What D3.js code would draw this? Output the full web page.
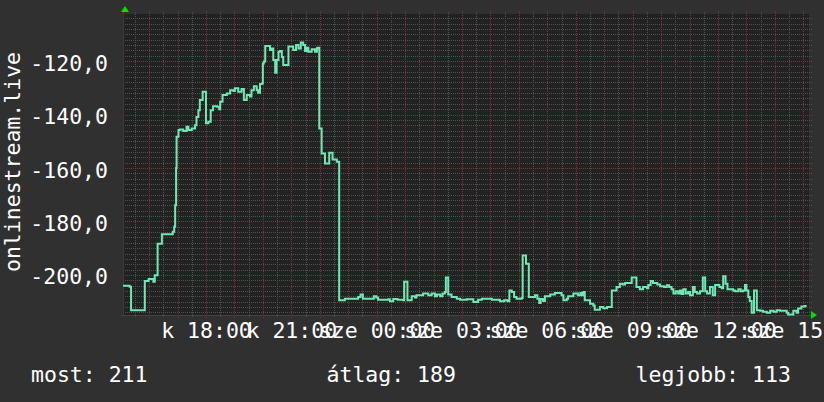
<!DOCTYPE html>
<html>
<head>
<meta charset="utf-8">
<script src="https://cdn.jsdelivr.net/npm/d3@7"></script>
<style>
  html, body { margin: 0; padding: 0; background: #303030; }
  svg text { font-family: "DejaVu Sans Mono", monospace; fill: #ffffff; }
</style>
</head>
<body>
<svg id="svg_stream" width="824" height="402"></svg>
<script>
// minutes since k 15:05 and the plotted value (negated listener rank)
const minutes = [0, 14, 17, 46, 54, 64, 67, 73, 82, 105, 108, 110, 112, 113, 117, 120, 127, 134, 138, 145,
  152, 155, 159, 162, 168, 175, 180, 185, 190, 198, 203, 205, 210, 219, 226, 233, 236, 243, 250, 255,
  261, 268, 271, 276, 282, 285, 289, 293, 295, 297, 300, 310, 314, 317, 321, 324, 328, 331, 335, 338,
  349, 359, 365, 370, 375, 380, 384, 387, 391, 398, 405, 409, 410, 414, 419, 426, 435, 442, 451, 456,
  468, 496, 501, 506, 529, 534, 538, 560, 563, 570, 579, 591, 593, 600, 609, 616, 619, 633, 644, 651,
  658, 662, 669, 674, 679, 681, 686, 693, 704, 711, 725, 739, 749, 757, 778, 795, 804, 811, 815, 820,
  825, 830, 841, 843, 850, 856, 869, 874, 878, 881, 886, 890, 901, 911, 925, 929, 936, 939, 950, 960,
  965, 967, 971, 974, 985, 992, 995, 1006, 1013, 1021, 1031, 1041, 1048, 1054, 1059, 1073, 1083, 1090, 1097, 1105,
  1108, 1113, 1118, 1127, 1133, 1141, 1147, 1152, 1157, 1161, 1166, 1171, 1175, 1178, 1182, 1187, 1192, 1196, 1202, 1206,
  1211, 1217, 1223, 1228, 1232, 1238, 1244, 1249, 1258, 1263, 1266, 1271, 1275, 1287, 1291, 1298, 1303, 1308, 1312, 1315,
  1319, 1322, 1326, 1331, 1337, 1344, 1350, 1358, 1365, 1372, 1379, 1386, 1400, 1403, 1414, 1421, 1424, 1431, 1438, 1442]

const values = [-204.1, -204.4, -213.2, -202.3, -201.5, -202.6, -200.1, -188.3, -184.8, -183.9, -182.0, -173.9, -160.0, -148.3, -145.8, -145.6, -146.2, -144.6, -145.8, -145.2,
  -144.0, -140.9, -138.4, -134.6, -131.5, -143.3, -142.7, -138.4, -136.9, -137.1, -138.0, -135.2, -132.7, -132.1, -130.9, -131.2, -130.2, -131.5, -130.5, -134.6,
  -132.7, -133.3, -130.9, -129.4, -130.9, -131.9, -128.6, -128.4, -120.9, -120.2, -114.4, -115.9, -115.3, -119.6, -124.4, -119.6, -116.5, -116.2, -118.5, -121.5,
  -114.6, -115.9, -114.0, -115.3, -113.1, -114.0, -116.2, -115.0, -116.5, -115.6, -116.5, -115.3, -115.0, -145.2, -154.6, -158.3, -154.3, -156.8, -157.7, -209.5,
  -208.9, -208.3, -207.3, -208.9, -208.0, -208.5, -209.3, -209.1, -209.9, -209.0, -209.3, -209.5, -202.6, -209.5, -208.0, -208.5, -207.6, -207.0, -207.6, -207.0,
  -208.0, -207.3, -208.0, -207.0, -206.4, -201.0, -207.3, -208.3, -208.9, -209.3, -209.1, -210.1, -209.3, -208.9, -209.3, -209.9, -209.5, -209.9, -205.8, -206.4,
  -208.3, -208.9, -208.6, -192.7, -195.8, -208.3, -207.6, -208.9, -210.5, -209.0, -209.8, -208.0, -207.3, -206.8, -207.6, -209.5, -208.9, -208.0, -207.0, -207.6,
  -206.8, -207.6, -206.4, -209.5, -210.8, -211.4, -213.0, -212.0, -212.5, -212.0, -205.8, -204.5, -203.3, -203.6, -203.0, -201.0, -204.5, -205.4, -204.5, -205.0,
  -203.8, -202.3, -203.0, -203.6, -204.2, -204.5, -203.9, -204.5, -205.4, -207.0, -206.1, -207.0, -205.8, -207.1, -205.4, -207.0, -206.4, -207.6, -204.5, -206.4,
  -207.0, -206.1, -201.0, -206.1, -207.0, -204.5, -207.6, -203.8, -204.5, -205.0, -200.5, -203.3, -205.4, -205.8, -206.1, -205.4, -206.1, -205.8, -203.8, -205.8,
  -208.3, -209.8, -214.2, -205.8, -213.2, -213.4, -213.8, -214.2, -213.4, -213.8, -213.2, -213.4, -214.2, -214.8, -213.4, -214.2, -212.6, -211.8, -211.6, -211.6]

const yTicks = [-200, -180, -160, -140, -120]
const labelHours = [18, 21, 24, 27, 30, 33, 36, 39]
const legendLabels = ['most: 211', 'átlag: 189', 'legjobb: 113']
const yTitle = 'onlinestream.live'

function drawChart() {
  const svg = d3.select('#svg_stream')
  const fontSize = 21.5

  const plot = { left: 123, right: 809, top: 14, bottom: 315 }
  const start = new Date(2024, 0, 2, 15, 5)
  const end = d3.timeMinute.offset(start, 1447)

  const data = minutes.map((m, i) => ({ date: d3.timeMinute.offset(start, m), value: values[i] }))

  const xScale = d3.scaleTime()
    .domain([start, end])
    .range([plot.left, plot.right])

  const yScale = d3.scaleLinear()
    .domain([-215, -102.4])
    .range([plot.bottom, plot.top])

  const huLocale = d3.timeFormatLocale({
    dateTime: '%Y. %m. %d. %H:%M:%S', date: '%Y. %m. %d.', time: '%H:%M:%S',
    periods: ['de.', 'du.'],
    days: ['vasárnap', 'hétfő', 'kedd', 'szerda', 'csütörtök', 'péntek', 'szombat'],
    shortDays: ['v', 'h', 'k', 'sze', 'cs', 'p', 'szo'],
    months: ['január', 'február', 'március', 'április', 'május', 'június', 'július', 'augusztus', 'szeptember', 'október', 'november', 'december'],
    shortMonths: ['jan', 'feb', 'már', 'ápr', 'máj', 'jún', 'júl', 'aug', 'szep', 'okt', 'nov', 'dec']
  })
  const timeFmt = huLocale.format('%a %H:%M')
  const numFmt = d3.formatLocale({ decimal: ',', thousands: ' ', grouping: [3], currency: ['', ' Ft'], minus: '-' }).format('.1f')

  // plot background
  svg.append('rect')
    .attr('x', plot.left)
    .attr('y', plot.top)
    .attr('width', plot.right - plot.left)
    .attr('height', plot.bottom - plot.top)
    .attr('fill', '#222222')

  const day0 = d3.timeDay.floor(start)
  const minorY = d3.range(-214, -102, 2).filter(v => v % 20 !== 0)
  const majorY = d3.range(-200, -102, 20)
  const minorX = d3.timeMinute.every(30).range(start, end).filter(d => d.getMinutes() !== 0)
  const majorX = d3.timeHour.range(start, end)

  const grid = svg.append('g')

  grid.selectAll('.hminor')
    .data(minorY)
    .enter()
    .append('line')
    .attr('x1', plot.left)
    .attr('x2', plot.right + 3)
    .attr('y1', d => Math.round(yScale(d)) + 0.5)
    .attr('y2', d => Math.round(yScale(d)) + 0.5)
    .attr('stroke', '#505050')
    .attr('stroke-dasharray', '1,1')

  grid.selectAll('.vminor')
    .data(minorX)
    .enter()
    .append('line')
    .attr('x1', d => Math.round(xScale(d)) + 0.5)
    .attr('x2', d => Math.round(xScale(d)) + 0.5)
    .attr('y1', plot.top - 2)
    .attr('y2', plot.bottom + 2)
    .attr('stroke', '#505050')
    .attr('stroke-dasharray', '1,1')

  grid.selectAll('.hmajor')
    .data(majorY)
    .enter()
    .append('line')
    .attr('x1', plot.left)
    .attr('x2', plot.right + 3)
    .attr('y1', d => Math.round(yScale(d)) + 0.5)
    .attr('y2', d => Math.round(yScale(d)) + 0.5)
    .attr('stroke', '#7c3434')
    .attr('stroke-dasharray', '1,1')

  grid.selectAll('.vmajor')
    .data(majorX)
    .enter()
    .append('line')
    .attr('x1', d => Math.round(xScale(d)) + 0.5)
    .attr('x2', d => Math.round(xScale(d)) + 0.5)
    .attr('y1', plot.top - 3)
    .attr('y2', plot.bottom + 3)
    .attr('stroke', '#7c3434')
    .attr('stroke-dasharray', '1,1')

  // axis lines
  svg.append('line')
    .attr('x1', plot.left - 2).attr('x2', plot.right + 2)
    .attr('y1', plot.bottom + 0.5).attr('y2', plot.bottom + 0.5)
    .attr('stroke', '#444444')
  svg.append('line')
    .attr('x1', plot.left + 0.5).attr('x2', plot.left + 0.5)
    .attr('y1', plot.top - 2).attr('y2', plot.bottom + 2)
    .attr('stroke', '#3a3a3a')

  // the series
  const line = d3.line()
    .x(d => xScale(d.date))
    .y(d => yScale(d.value))
    .curve(d3.curveStepAfter)

  svg.append('path')
    .datum(data)
    .attr('d', line)
    .attr('fill', 'none')
    .attr('stroke', '#70e8b4')
    .attr('stroke-width', 2)

  // arrows
  svg.append('path')
    .attr('d', `M${plot.left - 2},${plot.top - 2} L${plot.left + 6},${plot.top - 2} L${plot.left + 2},${plot.top - 8} Z`)
    .attr('fill', '#00e000')
  svg.append('path')
    .attr('d', `M${plot.right + 2},${plot.bottom - 4} L${plot.right + 2},${plot.bottom + 4} L${plot.right + 8},${plot.bottom} Z`)
    .attr('fill', '#00e000')

  // axes (labels only)
  const leftAxis = d3.axisLeft(yScale)
    .tickValues(yTicks)
    .tickFormat(numFmt)
    .tickSize(0)
    .tickPadding(15)

  const yAxisG = svg.append('g')
    .attr('transform', `translate(${plot.left}, 0)`)
    .call(leftAxis)
  yAxisG.select('.domain').remove()
  yAxisG.selectAll('text')
    .attr('dy', '0.42em')
    .attr('font-size', fontSize)
    .attr('font-family', '"DejaVu Sans Mono", monospace')
    .attr('fill', '#ffffff')

  const bottomAxis = d3.axisBottom(xScale)
    .tickValues(labelHours.map(h => d3.timeHour.offset(day0, h)))
    .tickFormat(timeFmt)
    .tickSize(0)
    .tickPadding(8)

  const xAxisG = svg.append('g')
    .attr('transform', `translate(0, ${plot.bottom})`)
    .call(bottomAxis)
  xAxisG.select('.domain').remove()
  xAxisG.selectAll('text')
    .attr('font-size', fontSize)
    .attr('font-family', '"DejaVu Sans Mono", monospace')
    .attr('fill', '#ffffff')

  // y title
  svg.append('text')
    .text(yTitle)
    .attr('transform', `translate(20, 162) rotate(-90)`)
    .attr('text-anchor', 'middle')
    .attr('font-size', fontSize)

  // legend
  const legendX = [31, 326.5, 635.5]
  svg.append('g')
    .selectAll('text')
    .data(legendLabels)
    .enter()
    .append('text')
    .text(d => d)
    .attr('x', (d, i) => legendX[i])
    .attr('y', 382)
    .attr('font-size', fontSize)
}

drawChart()
</script>
</body>
</html>
